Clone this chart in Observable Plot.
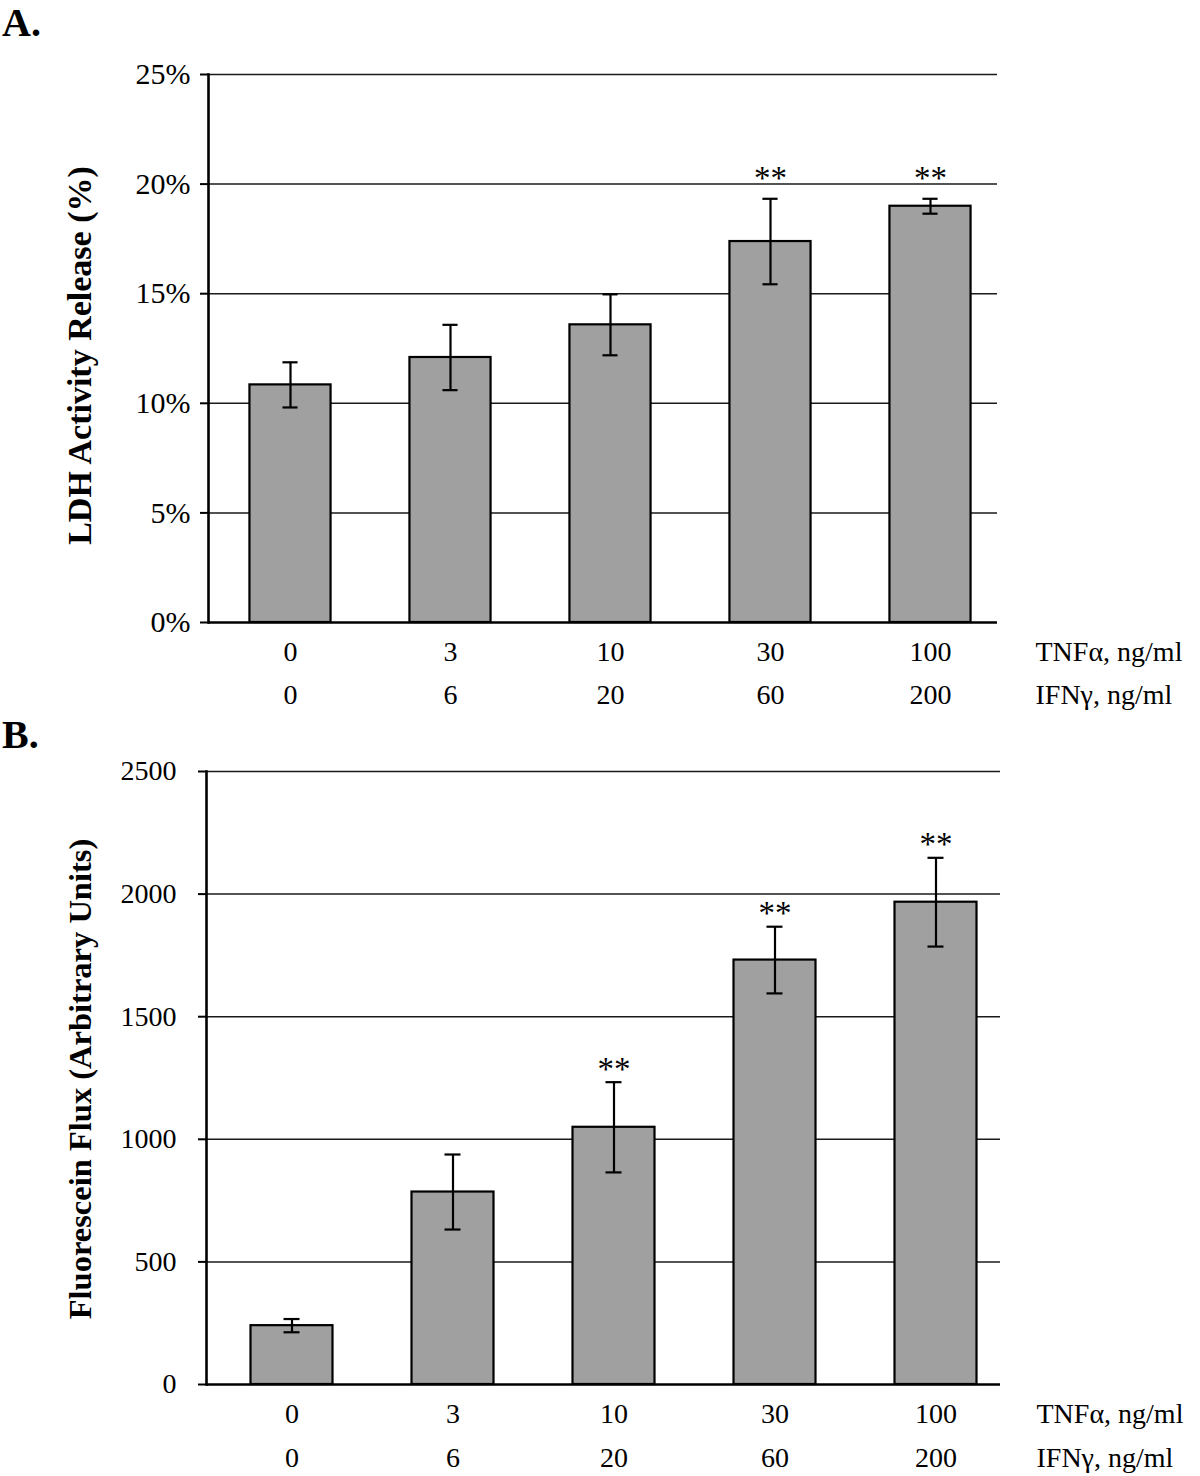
<!DOCTYPE html>
<html>
<head>
<meta charset="utf-8">
<script src="https://cdn.jsdelivr.net/npm/d3@7"></script>
<script src="https://cdn.jsdelivr.net/npm/@observablehq/plot@0.6"></script>
<style>
  html, body { margin: 0; padding: 0; background: #fff; }
  #wrap { position: relative; width: 1200px; height: 1476px; font-family: "Liberation Serif", "DejaVu Serif", serif; }
  .panel { position: absolute; left: 0; }
  .letter { position: absolute; left: 2px; font-weight: bold; font-size: 40px; line-height: 1; }
</style>
</head>
<body>
<div id="wrap">
  <div class="letter" id="la" style="top:3px">A.</div>
  <div class="panel" id="pa" style="top:0px"></div>
  <div class="letter" id="lb" style="top:715px">B.</div>
  <div class="panel" id="pb" style="top:700px"></div>
</div>
<script>
// ---- Data ----
const tnfDoses = ["0", "3", "10", "30", "100"];      // TNFα, ng/ml
const ifnDoses = ["0", "6", "20", "60", "200"];      // IFNγ, ng/ml

const ldhMean = [10.84, 12.09, 13.58, 17.38, 18.99]; // %
const ldhErr  = [1.03, 1.49, 1.39, 1.95, 0.34];
const ldhSig  = ["", "", "", "**", "**"];
const ldhTicks = [0, 5, 10, 15, 20, 25];

const fluxMean = [240, 785, 1049, 1731, 1967];       // arbitrary units
const fluxErr  = [27, 153, 184, 136, 181];
const fluxSig  = ["", "", "**", "**", "**"];
const fluxTicks = [0, 500, 1000, 1500, 2000, 2500];

const tnfLabel = "TNFα, ng/ml";
const ifnLabel = "IFNγ, ng/ml";
const ldhTitle = "LDH Activity Release (%)";
const fluxTitle = "Fluorescein Flux (Arbitrary Units)";

const FONT = "Liberation Serif";

function panel(cfg) {
  const rows = tnfDoses.map((d, i) => ({
    dose: d, ifn: ifnDoses[i], mean: cfg.mean[i], err: cfg.err[i], sig: cfg.sig[i],
    lo: cfg.mean[i] - cfg.err[i], hi: cfg.mean[i] + cfg.err[i]
  }));
  const step = (cfg.range[1] - cfg.range[0]) / tnfDoses.length;
  const barInset = (step - 82) / 2;
  const capInset = (step - 16) / 2;
  return Plot.plot({
    width: 1200,
    height: cfg.height,
    marginLeft: cfg.marginLeft,
    marginRight: cfg.marginRight,
    marginTop: cfg.marginTop,
    marginBottom: cfg.marginBottom,
    style: { fontFamily: FONT, fontSize: "28px", color: "#000", background: "transparent", overflow: "visible" },
    x: { type: "band", domain: tnfDoses, range: cfg.range, padding: 0, axis: null },
    y: { domain: [0, cfg.ticks[cfg.ticks.length - 1]], axis: null },
    marks: [
      Plot.ruleY(cfg.ticks.filter(t => t > 0), { stroke: "#1a1a1a", strokeWidth: 1.5 }),
      Plot.barY(rows, { x: "dose", y: "mean", fill: "#a0a0a0", stroke: "#000", strokeWidth: 2.2,
                        insetLeft: barInset, insetRight: barInset }),
      Plot.ruleX(rows, { x: "dose", y1: "lo", y2: "hi", stroke: "#000", strokeWidth: 2.2 }),
      Plot.tickY(rows, { x: "dose", y: "hi", stroke: "#000", strokeWidth: 2.2, insetLeft: capInset, insetRight: capInset }),
      Plot.tickY(rows, { x: "dose", y: "lo", stroke: "#000", strokeWidth: 2.2, insetLeft: capInset, insetRight: capInset }),
      Plot.text(rows.filter(r => r.sig), { x: "dose", y: "hi", text: "sig", fontSize: 33, dy: cfg.starDy,
                        lineAnchor: "middle", fill: "#000" }),
      Plot.axisY({ ticks: cfg.ticks, tickFormat: cfg.fmt, tickSize: 8, tickPadding: cfg.tickPadding,
                   fontSize: cfg.tickSize, strokeWidth: 2, label: null, fill: "#000" }),
      Plot.frame({ anchor: "left", stroke: "#000", strokeWidth: 2.6 }),
      Plot.ruleY([0], { stroke: "#000", strokeWidth: 2.6 }),
      Plot.text(rows, { x: "dose", text: "dose", frameAnchor: "bottom", dy: cfg.row1, lineAnchor: "middle", fontSize: 28 }),
      Plot.text(rows, { x: "dose", text: "ifn", frameAnchor: "bottom", dy: cfg.row2, lineAnchor: "middle", fontSize: 28 }),
      Plot.text([tnfLabel], { frameAnchor: "bottom-right", dx: cfg.unitDx, dy: cfg.row1, textAnchor: "start",
                              lineAnchor: "middle", fontSize: 28 }),
      Plot.text([ifnLabel], { frameAnchor: "bottom-right", dx: cfg.unitDx, dy: cfg.row2, textAnchor: "start",
                              lineAnchor: "middle", fontSize: 28 }),
      Plot.text([cfg.title], { frameAnchor: "left", dx: cfg.titleDx, dy: cfg.titleDy, rotate: -90,
                               textAnchor: "middle", lineAnchor: "middle", fontSize: cfg.titleSize, fontWeight: "bold" })
    ]
  });
}

document.getElementById("pa").appendChild(panel({
  mean: ldhMean, err: ldhErr, sig: ldhSig, ticks: ldhTicks, fmt: d => d + "%",
  height: 740, marginLeft: 208, marginRight: 203, marginTop: 74, marginBottom: 118,
  range: [207.5, 1011.9], tickPadding: 10, tickSize: 30, starDy: -20,
  row1: 30, row2: 73, unitDx: 38, title: ldhTitle, titleDx: -128, titleDy: 7, titleSize: 34
}));

document.getElementById("pb").appendChild(panel({
  mean: fluxMean, err: fluxErr, sig: fluxSig, ticks: fluxTicks, fmt: d => String(d),
  height: 776, marginLeft: 206, marginRight: 200, marginTop: 71, marginBottom: 92,
  range: [210.5, 1015.5], tickPadding: 22, tickSize: 28, starDy: -13,
  row1: 30, row2: 74, unitDx: 36, title: fluxTitle, titleDx: -126, titleDy: 1, titleSize: 32.5
}));
</script>
</body>
</html>
